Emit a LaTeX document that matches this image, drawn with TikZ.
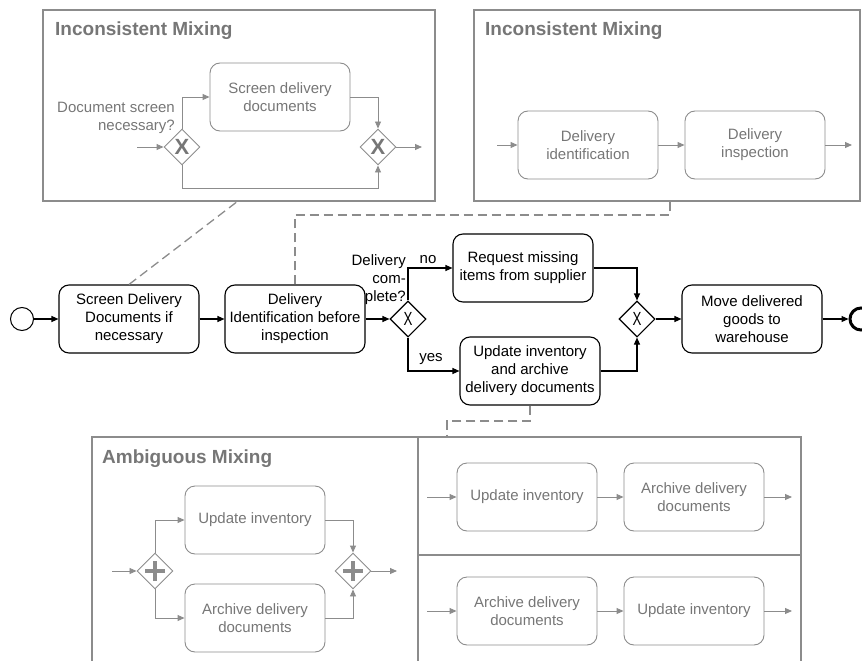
\documentclass[tikz,border=0pt]{standalone}
\usepackage{fontspec}
\setmainfont{Liberation Sans}
\usetikzlibrary{shapes.geometric,arrows.meta}

\definecolor{mixgray}{RGB}{140,140,140}
\definecolor{mixtext}{RGB}{118,118,118}

\tikzset{
    task/.style={draw, rounded corners=10pt, minimum width=140pt, minimum height=68pt,
        align=center, inner sep=2pt, line width=1.1pt},
    greytask/.style={task, draw=mixgray, text=mixtext, line width=0.9pt},
    gate/.style={diamond, draw, minimum size=36pt, inner sep=0pt, line width=1.1pt,
        font=\fontsize{19}{19}\selectfont},
    greygate/.style={gate, draw=mixgray, text=mixtext, line width=0.9pt,
        font=\fontsize{22}{22}\selectfont\bfseries},
    plusgate/.style={greygate, path picture={
        \draw[mixgray, line width=3.5pt]
            ([xshift=-10pt]path picture bounding box.center) -- ([xshift=10pt]path picture bounding box.center)
            ([yshift=-10pt]path picture bounding box.center) -- ([yshift=10pt]path picture bounding box.center);}},
    flow/.style={-{Triangle[length=7pt,width=6pt]}, line width=1.1pt},
    greyflow/.style={flow, draw=mixgray, line width=0.9pt},
    mixframe/.style={draw=mixgray, line width=2.2pt},
    boxtitle/.style={anchor=base west, inner sep=0pt, text=mixtext,
        font=\fontsize{19}{21}\selectfont\bfseries},
    assoc/.style={draw=mixgray, dash pattern=on 9pt off 5pt, line width=1.3pt}
}

\begin{document}
\begin{tikzpicture}[x=1pt, y=-1pt, font=\fontsize{15}{18}\selectfont]
    \useasboundingbox (0,0) rectangle (862,661);

    % frames
    \draw[mixframe] (43,10) rectangle (435,201);
    \draw[mixframe] (474,10) rectangle (860,201);
    \draw[mixframe] (92,437) rectangle (418,665);
    \draw[mixframe] (418,437) rectangle (801,555);
    \draw[mixframe] (418,555) rectangle (801,665);

    % top left: optional screening
    \node[boxtitle] (tlTitle) at (55,36) {Inconsistent Mixing};
    \node[greygate] (sgA) at (182,147) {X};
    \node[greytask] (sScreen) at (280,97) {Screen delivery\\documents};
    \node[greygate] (sgB) at (378,147) {X};
    \node[anchor=east, align=right, inner sep=0pt, text=mixtext] (sQuestion) at (175,118) {Document screen\\necessary?};
    \coordinate (sIn) at (137,147);
    \coordinate (sLow) at (182,188);
    \coordinate (sOut) at (422,147);
    \draw[greyflow] (sIn) -- (sgA);
    \draw[greyflow] (sgA) |- (sScreen);
    \draw[greyflow] (sScreen) -| (sgB);
    \draw[greyflow] (sgA) -- (sLow) -| (sgB);
    \draw[greyflow] (sgB) -- (sOut);

    % top right: identification then inspection
    \node[boxtitle] (trTitle) at (485,36) {Inconsistent Mixing};
    \node[greytask] (rIdent) at (588,145) {Delivery\\identification};
    \node[greytask] (rInsp) at (755,145) {Delivery\\inspection};
    \coordinate (rIn) at (497,145);
    \coordinate (rOut) at (852,145);
    \draw[greyflow] (rIn) -- (rIdent);
    \draw[greyflow] (rIdent) -- (rInsp);
    \draw[greyflow] (rInsp) -- (rOut);

    % main process
    \node[draw, circle, minimum size=23pt, inner sep=0pt, line width=1pt] (start) at (22,319) {};
    \node[task] (screen) at (129,319) {Screen Delivery\\Documents if\\necessary};
    \node[task] (ident) at (295,319) {Delivery\\Identification before\\inspection};
    \node[gate] (split) at (408,319) {\scalebox{0.7}[1]{X}};
    \node[task] (request) at (523,268) {Request missing\\items from supplier};
    \node[task] (update) at (530,371) {Update inventory\\and archive\\delivery documents};
    \node[gate] (merge) at (637,319) {\scalebox{0.7}[1]{X}};
    \node[task] (move) at (752,319) {Move delivered\\goods to\\warehouse};
    \node[draw, circle, minimum size=22pt, inner sep=0pt, line width=3pt] (end) at (861,319) {};

    \node[anchor=east, align=right, inner sep=0pt] (complete) at (406,280) {Delivery\\com-\\plete?};
    \node (no) at (428,260) {no};
    \node (yes) at (431,359) {yes};

    \draw[flow] (start) -- (screen);
    \draw[flow] (screen) -- (ident);
    \draw[flow] (ident) -- (split);
    \draw[flow] (split) |- (request);
    \draw[flow] (split) |- (update);
    \draw[flow] (request) -| (merge);
    \draw[flow] (update) -| (merge);
    \draw[flow] (merge) -- (move);
    \draw[flow] (move) -- (end);

    % associations to the mixing boxes
    \coordinate (tlFoot) at (238,201);
    \coordinate (trBend) at (670,215);
    \coordinate (trFoot) at (670,201);
    \coordinate (bBend) at (530,421);
    \coordinate (bFoot) at (447,437);
    \draw[assoc] (screen.north) -- (tlFoot);
    \draw[assoc] (ident.north) |- (trBend) -- (trFoot);
    \draw[assoc] (update.south) -- (bBend) -| (bFoot);

    % bottom left: parallel
    \node[boxtitle] (blTitle) at (102,463) {Ambiguous Mixing};
    \node[plusgate] (pA) at (155,571) {};
    \node[greytask] (aUpd) at (255,520) {Update inventory};
    \node[greytask] (aArch) at (255,618) {Archive delivery\\documents};
    \node[plusgate] (pB) at (353,571) {};
    \coordinate (aIn) at (112,571);
    \coordinate (aOut) at (397,571);
    \draw[greyflow] (aIn) -- (pA);
    \draw[greyflow] (pA) |- (aUpd);
    \draw[greyflow] (pA) |- (aArch);
    \draw[greyflow] (aUpd) -| (pB);
    \draw[greyflow] (aArch) -| (pB);
    \draw[greyflow] (pB) -- (aOut);

    % bottom right: the two sequences
    \node[greytask] (uUpd) at (527,497) {Update inventory};
    \node[greytask] (uArch) at (694,497) {Archive delivery\\documents};
    \coordinate (uIn) at (427,497);
    \coordinate (uOut) at (792,497);
    \draw[greyflow] (uIn) -- (uUpd);
    \draw[greyflow] (uUpd) -- (uArch);
    \draw[greyflow] (uArch) -- (uOut);

    \node[greytask] (vArch) at (527,611) {Archive delivery\\documents};
    \node[greytask] (vUpd) at (694,611) {Update inventory};
    \coordinate (vIn) at (427,611);
    \coordinate (vOut) at (792,611);
    \draw[greyflow] (vIn) -- (vArch);
    \draw[greyflow] (vArch) -- (vUpd);
    \draw[greyflow] (vUpd) -- (vOut);
\end{tikzpicture}
\end{document}
